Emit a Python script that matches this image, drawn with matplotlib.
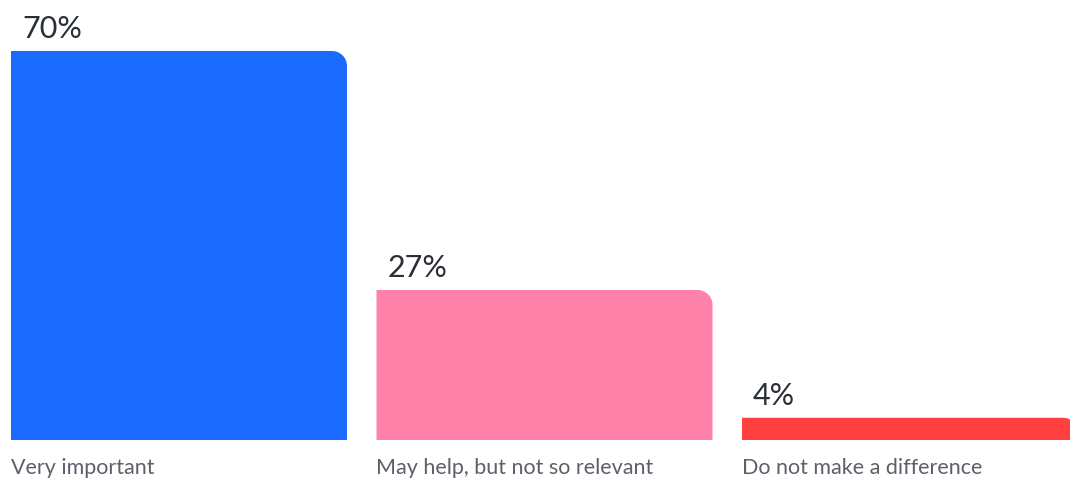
import numpy as np
import matplotlib.pyplot as plt
from matplotlib.path import Path
from matplotlib.patches import PathPatch

categories = ['Very important', 'May help, but not so relevant', 'Do not make a difference']
values = [70, 27, 4]
labels = ['70%', '27%', '4%']
colors = ['#1a6aff', '#ff82ab', '#ff4040']

plt.rcParams['font.family'] = ['Lato', 'DejaVu Sans']

fig = plt.figure(figsize=(10.7, 4.78), dpi=100)
# pixel layout of the reference: bars start at 11px, pitch 365.5px, width 336px
pitch = 365.5
w = 336 / pitch
base_px = 38
px_per_pct = 389 / 70.0
ax = fig.add_axes([0, base_px / 478, 1, 1 - base_px / 478])
x0 = -11 / pitch - w / 2
ax.set_xlim(x0, x0 + 1070 / pitch)
ax.set_ylim(0, (478 - base_px) / px_per_pct)
ax.axis('off')

rx = 15 / pitch
ry = 15 / px_per_pct


def top_right_rounded(x, wd, h):
    l, r = x - wd / 2, x + wd / 2
    k = 0.5523
    verts = [(l, 0), (r, 0), (r, h - ry),
             (r, h - ry + k * ry), (r - rx + k * rx, h), (r - rx, h),
             (l, h), (l, 0), (l, 0)]
    codes = [Path.MOVETO, Path.LINETO, Path.LINETO,
             Path.CURVE4, Path.CURVE4, Path.CURVE4,
             Path.LINETO, Path.LINETO, Path.CLOSEPOLY]
    return Path(verts, codes)


for i, (v, c) in enumerate(zip(values, colors)):
    ax.add_patch(PathPatch(top_right_rounded(i, w, v), facecolor=c, edgecolor='none'))
    ax.annotate(labels[i], (i - w / 2, v), xytext=(11, 13), textcoords='offset pixels',
                ha='left', va='baseline', fontsize=22, color='#2a2e37')
    ax.annotate(categories[i], (i - w / 2, 0), xytext=(0, -34), textcoords='offset pixels',
                ha='left', va='baseline', fontsize=15.5, color='#5c6069',
                annotation_clip=False)

plt.savefig('out.png', dpi=100)
